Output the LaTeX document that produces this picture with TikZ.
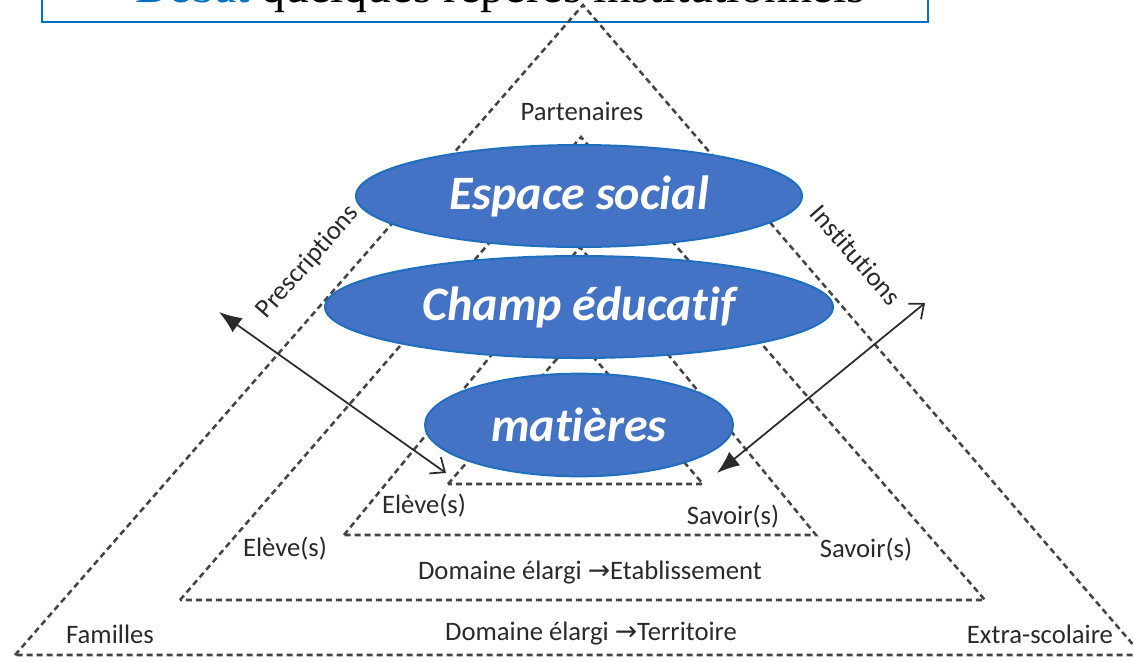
\documentclass[tikz,border=0pt]{standalone}
\usepackage{fontspec}
\setmainfont{Carlito}[Ligatures=NoCommon]
\newfontfamily\serifttl{Liberation Serif}
\newfontfamily\arrfont{DejaVu Sans}
\usetikzlibrary{arrows.meta,shapes.geometric}
\definecolor{ellfill}{HTML}{4472C4}
\definecolor{ellline}{HTML}{1F6FC0}
\definecolor{boxblue}{HTML}{0070C0}
\definecolor{dashgray}{HTML}{454545}
\definecolor{txtgray}{HTML}{2A2A2A}
\newcommand{\rarr}{{\arrfont\char"2192}}
\tikzset{
  tri/.style={draw=dashgray, line width=1.9pt, dash pattern=on 4.5pt off 3pt, line join=miter},
  ell/.style={ellipse, draw=ellline, line width=1.5pt, fill=ellfill, inner sep=0pt,
     text=white, font=\fontsize{36}{40}\selectfont\bfseries\itshape},
  lbl/.style={text=txtgray, font=\fontsize{20}{24}\selectfont, inner sep=0pt},
  dbl/.style={draw=txtgray, line width=1.3pt},
}
\begin{document}
\begin{tikzpicture}[x=0.75pt,y=-0.75pt]
\useasboundingbox (0,0) rectangle (1133,662);
\clip (0,0) rectangle (1133,662);
\fill[white] (0,0) rectangle (1133,662);

% title box (cut off at top)
\coordinate (bx1) at (42,-30);
\coordinate (bx2) at (928,22);
\draw[draw=boxblue, line width=1.5pt] (bx1) rectangle (bx2);
\node[anchor=base west, inner sep=0pt, font=\fontsize{35.9}{40}\serifttl] (title) at (135,2)
  {\textcolor{boxblue}{Débat} quelques repères institutionnels};

% triangles
\coordinate (o1) at (15,655);  \coordinate (o2) at (583,5);   \coordinate (o3) at (1142,655);
\coordinate (m1) at (180,600); \coordinate (m2) at (581,137); \coordinate (m3) at (985,600);
\coordinate (i1) at (344,535); \coordinate (i2) at (580,247); \coordinate (i3) at (816,535);
\coordinate (s1) at (448,484); \coordinate (s2) at (576,337); \coordinate (s3) at (703,484);
\draw[tri] (o1) -- (o2) -- (o3) -- cycle;
\draw[tri] (m1) -- (m2) -- (m3) -- cycle;
\draw[tri] (i1) -- (i2) -- (i3) -- cycle;
\draw[tri] (s1) -- (s2) -- (s3) -- cycle;

% double arrows
\coordinate (la1) at (219,312); \coordinate (la2) at (446,473);
\coordinate (ra1) at (925,303); \coordinate (ra2) at (717,473);
\draw[dbl, {Latex[length=17pt,width=13pt]}-{Straight Barb[length=9pt,width=15pt]}] (la1) -- (la2);
\draw[dbl, {Straight Barb[length=9pt,width=15pt]}-{Latex[length=17pt,width=13pt]}] (ra1) -- (ra2);

% ellipses
\node[ell, minimum width=334.5pt, minimum height=76.5pt] (esp) at (579,196) {Espace social};
\node[ell, minimum width=381pt, minimum height=76.5pt] (cha) at (579,307) {Champ éducatif};
\node[ell, minimum width=231pt, minimum height=77pt] (mat) at (579,425) {matières};

% labels
\node[lbl] (part) at (582,111) {Partenaires};
\node[lbl, rotate=48.8] (pres) at (308,262) {Prescriptions};
\node[lbl, rotate=-48.8] (inst) at (856,255) {Institutions};
\node[lbl] (el1) at (424,506) {Elève(s)};
\node[lbl] (sa1) at (733,517) {Savoir(s)};
\node[lbl] (el2) at (285,549) {Elève(s)};
\node[lbl] (sa2) at (866,550) {Savoir(s)};
\node[lbl] (etab) at (590,573) {Domaine élargi \rarr Etablissement};
\node[lbl] (fam) at (110,634) {Familles};
\node[lbl] (terr) at (591,634) {Domaine élargi \rarr Territoire};
\node[lbl] (extra) at (1040,634) {Extra-scolaire};
\end{tikzpicture}
\end{document}
